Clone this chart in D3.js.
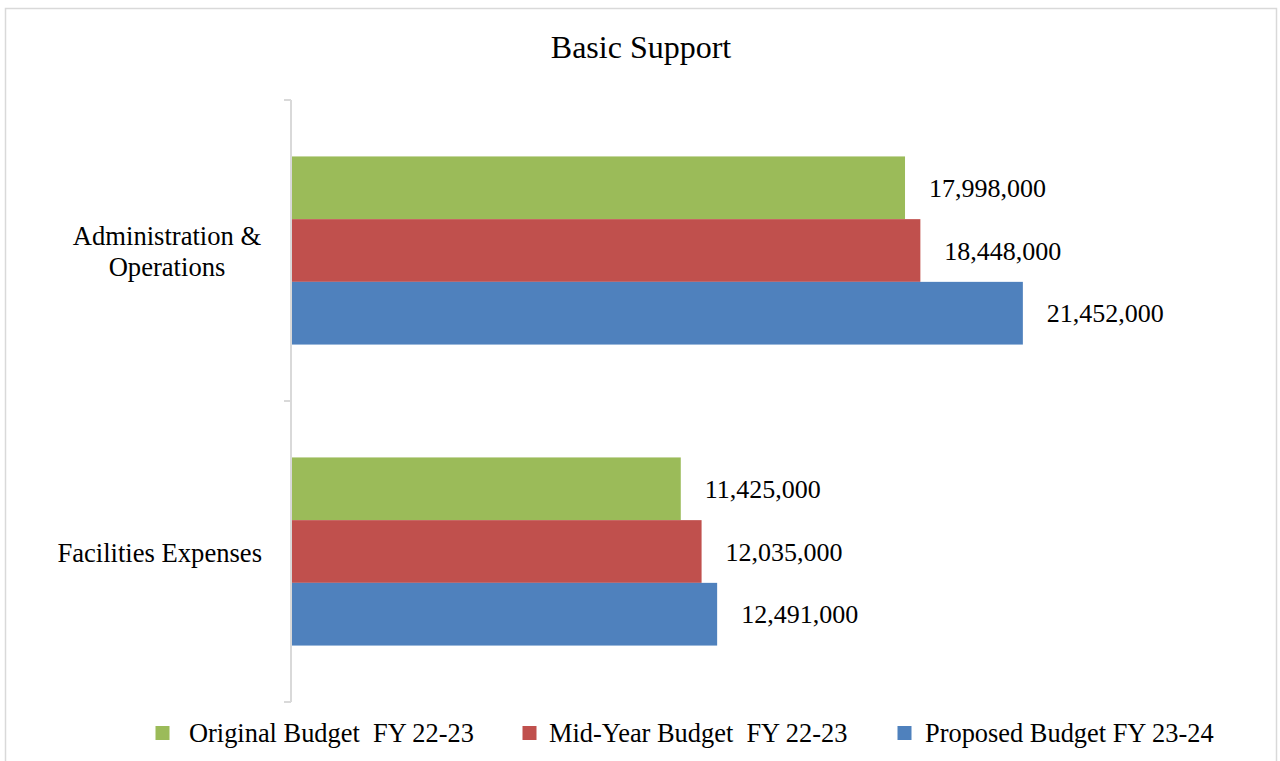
<!DOCTYPE html>
<html>
<head>
<meta charset="utf-8">
<script src="https://cdn.jsdelivr.net/npm/d3@7"></script>
<style>
  html, body { margin: 0; padding: 0; background: #fff; }
  svg { display: block; }
  text { font-family: "Liberation Serif", "Times New Roman", serif; fill: #000; }
</style>
</head>
<body>
<svg id="chart" width="1280" height="761"></svg>
<script>
const title = "Basic Support";
const categories = ["Administration & Operations", "Facilities Expenses"];
const categoryLines = [["Administration &", "Operations"], ["Facilities Expenses"]];
const seriesNames = ["Original Budget  FY 22-23", "Mid-Year Budget  FY 22-23", "Proposed Budget FY 23-24"];
const originalBudget = [17998000, 11425000];
const midYearBudget = [18448000, 12035000];
const proposedBudget = [21452000, 12491000];
const seriesValues = [originalBudget, midYearBudget, proposedBudget];
const colors = ["#9BBB59", "#C0504D", "#4F81BD"];

const svg = d3.select("#chart");

// outer border
svg.append("rect").attr("x", 5.5).attr("y", 8.5).attr("width", 1271).attr("height", 770)
  .attr("fill", "#fff").attr("stroke", "#d9d9d9").attr("stroke-width", 1.5);

// title
svg.append("text").attr("x", 641).attr("y", 58).attr("text-anchor", "middle")
  .style("font-size", "32px").text(title);

const x0 = 291;
const x = d3.scaleLinear().domain([0, 25000000]).range([x0, x0 + 852.9]);
const y = d3.scaleBand().domain(categories).range([100, 702]).paddingInner(0).paddingOuter(0);
const gapRatio = 1.8; // Excel gap width 180%
const barH = y.bandwidth() / (3 + gapRatio);
const inner = d3.scaleBand().domain(d3.range(3)).range([0, barH * 3]);

const rows = [];
categories.forEach((c, ci) => {
  seriesValues.forEach((vals, si) => {
    rows.push({ cat: c, ci, si, v: vals[ci] });
  });
});

// bars
svg.append("g").selectAll("rect").data(rows).join("rect")
  .attr("x", x(0))
  .attr("y", d => y(d.cat) + barH * gapRatio / 2 + inner(d.si))
  .attr("width", d => x(d.v) - x(0))
  .attr("height", barH)
  .attr("fill", d => colors[d.si]);

// value labels
const fmt = d3.format(",");
svg.append("g").selectAll("text").data(rows).join("text")
  .attr("x", d => x(d.v) + 24)
  .attr("y", d => y(d.cat) + barH * gapRatio / 2 + inner(d.si) + barH / 2)
  .attr("dy", "0.35em")
  .style("font-size", "26px")
  .text(d => fmt(d.v));

// axis line and ticks
const ag = svg.append("g");
ag.append("line").attr("x1", x0).attr("x2", x0).attr("y1", 100).attr("y2", 702)
  .attr("stroke", "#d9d9d9").attr("stroke-width", 2);
const tickYs = [y.range()[0]].concat(categories.map(c => y(c) + y.bandwidth()));
ag.selectAll(".tk").data(tickYs).join("line").attr("class", "tk")
  .attr("x1", x0 - 7).attr("x2", x0).attr("y1", d => d).attr("y2", d => d)
  .attr("stroke", "#d9d9d9").attr("stroke-width", 2);

// category labels
categories.forEach((c, ci) => {
  const lines = categoryLines[ci];
  const cy = y(c) + y.bandwidth() / 2 + 1;
  const lh = 31;
  const g = svg.append("g");
  lines.forEach((ln, li) => {
    g.append("text")
      .attr("x", lines.length > 1 ? 167 : 262)
      .attr("text-anchor", lines.length > 1 ? "middle" : "end")
      .attr("y", cy + (li - (lines.length - 1) / 2) * lh)
      .attr("dy", "0.35em")
      .style("font-size", "26.6px")
      .text(ln);
  });
});

// legend
const legendX = [155.5, 522.5, 897.5];
const legendTextX = [189, 549, 925];
const lg = svg.append("g");
seriesNames.forEach((n, i) => {
  lg.append("rect").attr("x", legendX[i]).attr("y", 726).attr("width", 14).attr("height", 14)
    .attr("fill", colors[i]);
  lg.append("text").attr("x", legendTextX[i]).attr("y", 732.5).attr("dy", "0.35em")
    .style("font-size", "26.4px").style("white-space", "pre").attr("xml:space", "preserve").text(n);
});
</script>
</body>
</html>
